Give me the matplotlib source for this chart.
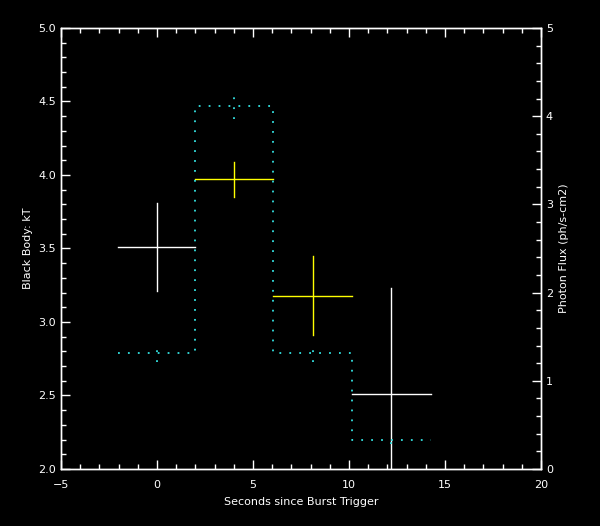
import matplotlib
matplotlib.use("Agg")
import matplotlib.pyplot as plt
import numpy as np
from matplotlib.ticker import MultipleLocator

# Time bins (seconds since trigger)
bin_edges = [-2.05, 2.0, 6.05, 10.15, 14.25]
bin_centers = [0.0, 4.0, 8.1, 12.2]

# Black body kT with errors
kT = [3.51, 3.97, 3.18, 2.51]
kT_err = [0.30, 0.12, 0.27, 0.72]
kT_colors = ["white", "#ffff00", "#ffff00", "white"]

# Photon flux with errors
flux = [1.31, 4.11, 1.31, 0.33]
flux_err = [0.10, 0.14, 0.10, 0.05]

x_ticks = [-5, 0, 5, 10, 15, 20]
left_ticks = [2.0, 2.5, 3.0, 3.5, 4.0, 4.5, 5.0]
right_ticks = [0, 1, 2, 3, 4, 5]

fg = "white"
flux_color = "#33e0e0"

fig = plt.figure(figsize=(6.0, 5.26), dpi=100, facecolor="black")
ax = fig.add_axes([0.1017, 0.1084, 0.8, 0.8384], facecolor="black")
ax2 = ax.twinx()

# Flux step (dotted)
sx = []
sy = []
for i in range(len(flux)):
    sx += [bin_edges[i], bin_edges[i + 1]]
    sy += [flux[i], flux[i]]
ax2.plot(sx, sy, color=flux_color, linestyle=(0, (1, 4.5)), linewidth=1.3)
for c, f, e in zip(bin_centers, flux, flux_err):
    ax2.plot([c, c], [f - e, f + e], color=flux_color, linestyle=(0, (1, 4.5)), linewidth=1.3)

# kT crosses
for i in range(len(kT)):
    ax.plot([bin_edges[i], bin_edges[i + 1]], [kT[i], kT[i]], color=kT_colors[i], lw=1)
    ax.plot([bin_centers[i], bin_centers[i]], [kT[i] - kT_err[i], kT[i] + kT_err[i]],
            color=kT_colors[i], lw=1)

ax.set_xlim(-5, 20)
ax.set_ylim(2.0, 5.0)
ax2.set_ylim(0, 5)

ax.set_xticks(x_ticks)
ax.set_xticklabels([str(v) if v >= 0 else "\u2212" + str(-v) for v in x_ticks])
ax.set_yticks(left_ticks)
ax.set_yticklabels([f"{v:.1f}" for v in left_ticks])
ax2.set_yticks(right_ticks)
ax2.set_yticklabels([str(v) for v in right_ticks])
ax.xaxis.set_minor_locator(MultipleLocator(1))
ax.yaxis.set_minor_locator(MultipleLocator(0.1))
ax2.yaxis.set_minor_locator(MultipleLocator(0.2))

for a in (ax, ax2):
    for s in a.spines.values():
        s.set_color(fg)
        s.set_linewidth(1)
    a.tick_params(colors=fg, which="both", direction="in", labelsize=8, width=1)
    a.tick_params(which="major", length=6.5)
    a.tick_params(which="minor", length=3.5)

ax.tick_params(axis="x", which="both", top=True, bottom=True)
ax.tick_params(axis="x", which="major", pad=8)
ax.tick_params(axis="y", which="both", left=True, right=False)
ax2.tick_params(axis="y", which="both", right=True, left=False)

ax.set_xlabel("Seconds since Burst Trigger", color=fg, fontsize=8, labelpad=5)
ax.set_ylabel("Black Body: kT", color=fg, fontsize=8)
ax2.set_ylabel("Photon Flux (ph/s-cm2)", color=fg, fontsize=8)

fig.savefig("out.png", dpi=100, facecolor="black")
